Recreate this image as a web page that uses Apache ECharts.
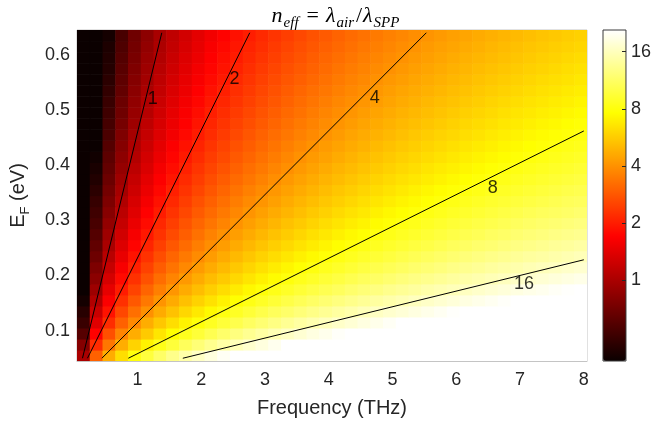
<!DOCTYPE html>
<html>
<head>
<meta charset="utf-8">
<script src="https://cdn.jsdelivr.net/npm/echarts@6/dist/echarts.min.js"></script>
<style>
  html, body { margin: 0; padding: 0; background: #fff; }
  #chart { width: 654px; height: 424px; }
</style>
</head>
<body>
<div id="chart"></div>
<script>
// cell centres (THz / eV)
const freq = [0.15, 0.35, 0.55, 0.75, 0.95, 1.15, 1.35, 1.55, 1.75, 1.95,
  2.15, 2.35, 2.55, 2.75, 2.95, 3.15, 3.35, 3.55, 3.75, 3.95,
  4.15, 4.35, 4.55, 4.75, 4.95, 5.15, 5.35, 5.55, 5.75, 5.95,
  6.15, 6.35, 6.55, 6.75, 6.95, 7.15, 7.35, 7.55, 7.75, 7.95];
const fermi = [0.055, 0.075, 0.095, 0.115, 0.135, 0.155, 0.175, 0.195, 0.215, 0.235,
  0.255, 0.275, 0.295, 0.315, 0.335, 0.355, 0.375, 0.395, 0.415, 0.435,
  0.455, 0.475, 0.495, 0.515, 0.535, 0.555, 0.575, 0.595, 0.615, 0.635];

// n_eff, one row per fermi level (bottom row first)
const neff = [
  [1.0, 3.0, 4.7, 6.3, 8.0, 9.7, 11.4, 13.1, 14.8, 16.5, 18.2, 19.9, 22, 23, 25, 27, 28, 30, 32, 33, 35, 37, 38, 40, 42, 44, 45, 47, 49, 50, 52, 54, 55, 57, 59, 60, 62, 64, 66, 67],
  [0.8, 2.2, 3.4, 4.7, 5.9, 7.1, 8.4, 9.6, 10.9, 12.1, 13.3, 14.6, 15.8, 17.1, 18.3, 19.5, 21, 22, 23, 24, 26, 27, 28, 29, 31, 32, 33, 34, 36, 37, 38, 39, 41, 42, 43, 44, 46, 47, 48, 49],
  [0.6, 1.7, 2.7, 3.7, 4.7, 5.6, 6.6, 7.6, 8.6, 9.5, 10.5, 11.5, 12.5, 13.5, 14.4, 15.4, 16.4, 17.4, 18.4, 19.3, 20.3, 21, 22, 23, 24, 25, 26, 27, 28, 29, 30, 31, 32, 33, 34, 35, 36, 37, 38, 39],
  [0.5, 1.4, 2.2, 3.0, 3.8, 4.7, 5.5, 6.3, 7.1, 7.9, 8.7, 9.5, 10.3, 11.1, 11.9, 12.7, 13.6, 14.4, 15.2, 16.0, 16.8, 17.6, 18.4, 19.2, 20.0, 20.8, 21.6, 22.4, 23.3, 24.1, 24.9, 25.7, 26.5, 27.3, 28.1, 28.9, 29.7, 30.5, 31.3, 32.2],
  [0.45, 1.21, 1.89, 2.58, 3.27, 3.96, 4.65, 5.34, 6.03, 6.72, 7.41, 8.09, 8.78, 9.47, 10.2, 10.9, 11.5, 12.2, 12.9, 13.6, 14.3, 15.0, 15.7, 16.4, 17.1, 17.7, 18.4, 19.1, 19.8, 20.5, 21.2, 21.9, 22.6, 23.3, 23.9, 24.6, 25.3, 26.0, 26.7, 27.4],
  [0.4, 1.05, 1.65, 2.25, 2.85, 3.45, 4.05, 4.65, 5.25, 5.85, 6.45, 7.05, 7.65, 8.25, 8.85, 9.45, 10.1, 10.7, 11.3, 11.9, 12.5, 13.1, 13.7, 14.3, 14.9, 15.5, 16.1, 16.7, 17.3, 17.9, 18.5, 19.1, 19.7, 20.3, 20.9, 21.5, 22.1, 22.7, 23.3, 23.9],
  [0.35, 0.93, 1.46, 1.99, 2.52, 3.06, 3.59, 4.12, 4.65, 5.18, 5.71, 6.24, 6.78, 7.31, 7.84, 8.37, 8.90, 9.43, 9.96, 10.5, 11.0, 11.6, 12.1, 12.6, 13.2, 13.7, 14.2, 14.8, 15.3, 15.8, 16.3, 16.9, 17.4, 17.9, 18.5, 19.0, 19.5, 20.1, 20.6, 21.1],
  [0.33, 0.83, 1.31, 1.79, 2.27, 2.74, 3.22, 3.70, 4.17, 4.65, 5.13, 5.60, 6.08, 6.56, 7.03, 7.51, 7.99, 8.47, 8.94, 9.42, 9.90, 10.4, 10.9, 11.3, 11.8, 12.3, 12.8, 13.2, 13.7, 14.2, 14.7, 15.1, 15.6, 16.1, 16.6, 17.1, 17.5, 18.0, 18.5, 19.0],
  [0.32, 0.76, 1.19, 1.62, 2.05, 2.49, 2.92, 3.35, 3.78, 4.22, 4.65, 5.08, 5.52, 5.95, 6.38, 6.81, 7.25, 7.68, 8.11, 8.54, 8.98, 9.41, 9.84, 10.3, 10.7, 11.1, 11.6, 12.0, 12.4, 12.9, 13.3, 13.7, 14.2, 14.6, 15.0, 15.5, 15.9, 16.3, 16.8, 17.2],
  [0.30, 0.69, 1.09, 1.48, 1.88, 2.28, 2.67, 3.07, 3.46, 3.86, 4.25, 4.65, 5.05, 5.44, 5.84, 6.23, 6.63, 7.02, 7.42, 7.82, 8.21, 8.61, 9.00, 9.40, 9.79, 10.2, 10.6, 11.0, 11.4, 11.8, 12.2, 12.6, 13.0, 13.4, 13.8, 14.2, 14.5, 14.9, 15.3, 15.7],
  [0.27, 0.64, 1.00, 1.37, 1.73, 2.10, 2.46, 2.83, 3.19, 3.56, 3.92, 4.29, 4.65, 5.01, 5.38, 5.74, 6.11, 6.47, 6.84, 7.20, 7.57, 7.93, 8.30, 8.66, 9.03, 9.39, 9.76, 10.1, 10.5, 10.9, 11.2, 11.6, 11.9, 12.3, 12.7, 13.0, 13.4, 13.8, 14.1, 14.5],
  [0.25, 0.59, 0.93, 1.27, 1.61, 1.94, 2.28, 2.62, 2.96, 3.30, 3.64, 3.97, 4.31, 4.65, 4.99, 5.33, 5.66, 6.00, 6.34, 6.68, 7.02, 7.36, 7.69, 8.03, 8.37, 8.71, 9.05, 9.39, 9.72, 10.1, 10.4, 10.7, 11.1, 11.4, 11.8, 12.1, 12.4, 12.8, 13.1, 13.4],
  [0.24, 0.55, 0.87, 1.18, 1.50, 1.81, 2.13, 2.44, 2.76, 3.07, 3.39, 3.70, 4.02, 4.34, 4.65, 4.97, 5.28, 5.60, 5.91, 6.23, 6.54, 6.86, 7.17, 7.49, 7.80, 8.12, 8.43, 8.75, 9.06, 9.38, 9.69, 10.0, 10.3, 10.6, 11.0, 11.3, 11.6, 11.9, 12.2, 12.5],
  [0.22, 0.52, 0.81, 1.11, 1.40, 1.70, 1.99, 2.29, 2.58, 2.88, 3.17, 3.47, 3.76, 4.06, 4.35, 4.65, 4.94, 5.24, 5.54, 5.83, 6.13, 6.42, 6.72, 7.01, 7.31, 7.60, 7.90, 8.19, 8.49, 8.78, 9.08, 9.37, 9.67, 9.96, 10.3, 10.6, 10.9, 11.1, 11.4, 11.7],
  [0.21, 0.49, 0.76, 1.04, 1.32, 1.60, 1.87, 2.15, 2.43, 2.71, 2.98, 3.26, 3.54, 3.82, 4.09, 4.37, 4.65, 4.93, 5.20, 5.48, 5.76, 6.04, 6.32, 6.59, 6.87, 7.15, 7.43, 7.70, 7.98, 8.26, 8.54, 8.81, 9.09, 9.37, 9.65, 9.92, 10.2, 10.5, 10.8, 11.0],
  [0.20, 0.46, 0.72, 0.98, 1.24, 1.51, 1.77, 2.03, 2.29, 2.55, 2.82, 3.08, 3.34, 3.60, 3.86, 4.13, 4.39, 4.65, 4.91, 5.17, 5.44, 5.70, 5.96, 6.22, 6.48, 6.75, 7.01, 7.27, 7.53, 7.79, 8.06, 8.32, 8.58, 8.84, 9.10, 9.37, 9.63, 9.89, 10.2, 10.4],
  [0.19, 0.43, 0.68, 0.93, 1.18, 1.43, 1.67, 1.92, 2.17, 2.42, 2.67, 2.91, 3.16, 3.41, 3.66, 3.91, 4.15, 4.40, 4.65, 4.90, 5.15, 5.39, 5.64, 5.89, 6.14, 6.39, 6.63, 6.88, 7.13, 7.38, 7.63, 7.87, 8.12, 8.37, 8.62, 8.87, 9.11, 9.36, 9.61, 9.86],
  [0.18, 0.41, 0.65, 0.88, 1.12, 1.35, 1.59, 1.82, 2.06, 2.30, 2.53, 2.77, 3.00, 3.24, 3.47, 3.71, 3.94, 4.18, 4.41, 4.65, 4.89, 5.12, 5.36, 5.59, 5.83, 6.06, 6.30, 6.53, 6.77, 7.00, 7.24, 7.47, 7.71, 7.95, 8.18, 8.42, 8.65, 8.89, 9.12, 9.36],
  [0.17, 0.39, 0.62, 0.84, 1.06, 1.29, 1.51, 1.74, 1.96, 2.18, 2.41, 2.63, 2.86, 3.08, 3.30, 3.53, 3.75, 3.98, 4.20, 4.42, 4.65, 4.87, 5.10, 5.32, 5.55, 5.77, 5.99, 6.22, 6.44, 6.67, 6.89, 7.11, 7.34, 7.56, 7.79, 8.01, 8.23, 8.46, 8.68, 8.91],
  [0.16, 0.37, 0.59, 0.80, 1.02, 1.23, 1.44, 1.66, 1.87, 2.08, 2.30, 2.51, 2.73, 2.94, 3.15, 3.37, 3.58, 3.80, 4.01, 4.22, 4.44, 4.65, 4.86, 5.08, 5.29, 5.51, 5.72, 5.93, 6.15, 6.36, 6.57, 6.79, 7.00, 7.22, 7.43, 7.64, 7.86, 8.07, 8.29, 8.50],
  [0.15, 0.36, 0.56, 0.77, 0.97, 1.18, 1.38, 1.58, 1.79, 1.99, 2.20, 2.40, 2.61, 2.81, 3.02, 3.22, 3.42, 3.63, 3.83, 4.04, 4.24, 4.45, 4.65, 4.85, 5.06, 5.26, 5.47, 5.67, 5.88, 6.08, 6.29, 6.49, 6.69, 6.90, 7.10, 7.31, 7.51, 7.72, 7.92, 8.13],
  [0.15, 0.34, 0.54, 0.73, 0.93, 1.13, 1.32, 1.52, 1.71, 1.91, 2.11, 2.30, 2.50, 2.69, 2.89, 3.08, 3.28, 3.48, 3.67, 3.87, 4.06, 4.26, 4.45, 4.65, 4.85, 5.04, 5.24, 5.43, 5.63, 5.82, 6.02, 6.22, 6.41, 6.61, 6.80, 7.00, 7.19, 7.39, 7.59, 7.78],
  [0.14, 0.33, 0.52, 0.70, 0.89, 1.08, 1.27, 1.46, 1.64, 1.83, 2.02, 2.21, 2.40, 2.58, 2.77, 2.96, 3.15, 3.33, 3.52, 3.71, 3.90, 4.09, 4.27, 4.46, 4.65, 4.84, 5.03, 5.21, 5.40, 5.59, 5.78, 5.96, 6.15, 6.34, 6.53, 6.72, 6.90, 7.09, 7.28, 7.47],
  [0.14, 0.32, 0.50, 0.68, 0.86, 1.04, 1.22, 1.40, 1.58, 1.76, 1.94, 2.12, 2.30, 2.48, 2.66, 2.84, 3.03, 3.21, 3.39, 3.57, 3.75, 3.93, 4.11, 4.29, 4.47, 4.65, 4.83, 5.01, 5.19, 5.37, 5.55, 5.73, 5.91, 6.09, 6.28, 6.46, 6.64, 6.82, 7.00, 7.18],
  [0.13, 0.30, 0.48, 0.65, 0.83, 1.00, 1.17, 1.35, 1.52, 1.69, 1.87, 2.04, 2.22, 2.39, 2.56, 2.74, 2.91, 3.09, 3.26, 3.43, 3.61, 3.78, 3.95, 4.13, 4.30, 4.48, 4.65, 4.82, 5.00, 5.17, 5.34, 5.52, 5.69, 5.87, 6.04, 6.21, 6.39, 6.56, 6.74, 6.91],
  [0.13, 0.29, 0.46, 0.63, 0.80, 0.96, 1.13, 1.30, 1.47, 1.63, 1.80, 1.97, 2.14, 2.30, 2.47, 2.64, 2.81, 2.97, 3.14, 3.31, 3.48, 3.64, 3.81, 3.98, 4.15, 4.31, 4.48, 4.65, 4.82, 4.98, 5.15, 5.32, 5.49, 5.65, 5.82, 5.99, 6.16, 6.32, 6.49, 6.66],
  [0.12, 0.28, 0.44, 0.61, 0.77, 0.93, 1.09, 1.25, 1.42, 1.58, 1.74, 1.90, 2.06, 2.22, 2.39, 2.55, 2.71, 2.87, 3.03, 3.19, 3.36, 3.52, 3.68, 3.84, 4.00, 4.16, 4.33, 4.49, 4.65, 4.81, 4.97, 5.13, 5.30, 5.46, 5.62, 5.78, 5.94, 6.10, 6.27, 6.43],
  [0.12, 0.27, 0.43, 0.59, 0.74, 0.90, 1.05, 1.21, 1.37, 1.52, 1.68, 1.84, 1.99, 2.15, 2.31, 2.46, 2.62, 2.77, 2.93, 3.09, 3.24, 3.40, 3.56, 3.71, 3.87, 4.02, 4.18, 4.34, 4.49, 4.65, 4.81, 4.96, 5.12, 5.27, 5.43, 5.59, 5.74, 5.90, 6.06, 6.21],
  [0.11, 0.26, 0.42, 0.57, 0.72, 0.87, 1.02, 1.17, 1.32, 1.47, 1.63, 1.78, 1.93, 2.08, 2.23, 2.38, 2.53, 2.68, 2.83, 2.99, 3.14, 3.29, 3.44, 3.59, 3.74, 3.89, 4.04, 4.20, 4.35, 4.50, 4.65, 4.80, 4.95, 5.10, 5.25, 5.41, 5.56, 5.71, 5.86, 6.01],
  [0.11, 0.26, 0.40, 0.55, 0.70, 0.84, 0.99, 1.14, 1.28, 1.43, 1.57, 1.72, 1.87, 2.01, 2.16, 2.31, 2.45, 2.60, 2.75, 2.89, 3.04, 3.19, 3.33, 3.48, 3.62, 3.77, 3.92, 4.06, 4.21, 4.36, 4.50, 4.65, 4.80, 4.94, 5.09, 5.24, 5.38, 5.53, 5.68, 5.82]
];

// contour lines: level, start/end frequency and fermi level
const contourLevels = [1, 2, 4, 8, 16];
const contourFreq = [[0.136, 1.38], [0.214, 2.76], [0.44, 5.53], [0.855, 8.0], [1.71, 8.0]];
const contourFermi = [[0.05, 0.64], [0.05, 0.64], [0.05, 0.64], [0.05, 0.462], [0.05, 0.2285]];
// where the contour labels sit
const labelFreq = [1.24, 2.52, 4.72, 6.57, 7.06];
const labelFermi = [0.52, 0.556, 0.522, 0.358, 0.184];

const xTicks = [1, 2, 3, 4, 5, 6, 7, 8];
const yTicks = [0.1, 0.2, 0.3, 0.4, 0.5, 0.6];
const barTicks = [1, 2, 4, 8, 16];
const barMin = -1.41, barMax = 4.38; // colour limits, log2(n_eff)

const dx = freq[1] - freq[0];
const dy = fermi[1] - fermi[0];
const cells = [];
fermi.forEach((e, i) => {
  freq.forEach((f, j) => {
    const v = neff[i][j];
    const l = Math.min(barMax, Math.max(barMin, Math.log2(v)));
    cells.push([f, e, l, v]);
  });
});

const txt = '#262626';
const font = 'Liberation Sans, Arial, sans-serif';
const serif = 'Liberation Serif, serif';
const barTickPos = barTicks.map(Math.log2);

const chart = echarts.init(document.getElementById('chart'));
chart.setOption({
  animation: false,
  backgroundColor: '#fff',
  title: {
    text: '{i|n}{s|eff}{r|=}{i|λ}{s|air}{d|/}{i|λ}{s|SPP}',
    left: 331, top: -4, textAlign: 'center',
    textStyle: {
      rich: {
        i: { fontFamily: serif, fontStyle: 'italic', fontWeight: 'normal', fontSize: 22, lineHeight: 30, color: '#000' },
        r: { fontFamily: serif, fontWeight: 'normal', fontSize: 22, lineHeight: 30, color: '#000', padding: [0, 7, 0, 7] },
        d: { fontFamily: serif, fontWeight: 'normal', fontSize: 22, lineHeight: 30, color: '#000', padding: [0, 1, 0, 1] },
        s: { fontFamily: serif, fontStyle: 'italic', fontWeight: 'normal', fontSize: 15, lineHeight: 15, verticalAlign: 'bottom', color: '#000', padding: [0, 1, 0, 1] }
      }
    }
  },
  grid: [
    { left: 75, top: 30, width: 512, height: 331, show: true, borderColor: '#c4c4c4', borderWidth: 1 },
    { left: 603, top: 30, width: 23, height: 331, show: true, borderColor: '#3a3a3a', borderWidth: 1, z: 10 }
  ],
  xAxis: [
    {
      type: 'value', gridIndex: 0, min: 0.05, max: 8.05,
      name: 'Frequency (THz)', nameLocation: 'middle', nameGap: 37,
      nameTextStyle: { fontFamily: font, fontSize: 20, color: txt },
      axisLine: { show: true, lineStyle: { color: '#c4c4c4' } },
      axisTick: { show: false },
      splitLine: { show: false },
      axisLabel: { customValues: xTicks, margin: 10, fontFamily: font, fontSize: 18, color: txt }
    },
    { type: 'value', gridIndex: 1, min: 0, max: 1, show: false }
  ],
  yAxis: [
    {
      type: 'value', gridIndex: 0, min: 0.045, max: 0.645,
      name: '{a|E}{s|F}{a| (eV)}', nameLocation: 'middle', nameGap: 45, nameRotate: 90,
      nameTextStyle: {
        rich: {
          a: { fontFamily: font, fontSize: 20, lineHeight: 28, color: txt },
          s: { fontFamily: font, fontSize: 13, lineHeight: 13, verticalAlign: 'bottom', color: txt }
        }
      },
      axisLine: { show: false },
      axisTick: { show: false },
      splitLine: { show: false },
      axisLabel: {
        customValues: yTicks, margin: 7, fontFamily: font, fontSize: 18, color: txt,
        formatter: v => v.toFixed(1)
      }
    },
    {
      type: 'value', gridIndex: 1, min: barMin, max: barMax, position: 'right', z: 12,
      axisLine: { show: false },
      splitLine: { show: false },
      axisTick: { show: false },
      axisLabel: {
        customValues: barTickPos, margin: 5, fontFamily: font, fontSize: 18, color: txt,
        formatter: v => String(Math.round(Math.pow(2, v)))
      }
    },
    {
      type: 'value', gridIndex: 1, min: barMin, max: barMax, position: 'left', offset: -23, z: 12,
      axisLine: { show: false },
      splitLine: { show: false },
      axisLabel: { show: false },
      axisTick: { show: true, inside: false, length: 4, customValues: barTickPos, lineStyle: { color: txt } }
    }
  ],
  visualMap: {
    type: 'continuous', seriesIndex: 0, dimension: 2,
    min: barMin, max: barMax,
    left: 603, top: 30, itemWidth: 23, itemHeight: 331,
    padding: 0, calculable: false, hoverLink: false, showLabel: false, text: null,
    inRange: {
      color: ['#0b0000', '#5c0000', '#ae0000', '#ff0000', '#ff5500', '#ffaa00', '#ffff00', '#ffff80', '#ffffff']
    }
  },
  series: [
    {
      type: 'custom', xAxisIndex: 0, yAxisIndex: 0, clip: true,
      data: cells,
      renderItem: (params, api) => {
        const p0 = api.coord([api.value(0) - dx / 2, api.value(1) + dy / 2]);
        const p1 = api.coord([api.value(0) + dx / 2, api.value(1) - dy / 2]);
        return {
          type: 'rect',
          shape: { x: p0[0], y: p0[1], width: p1[0] - p0[0] + 0.6, height: p1[1] - p0[1] + 0.6 },
          style: { fill: api.visual('color') }
        };
      }
    },
    ...contourLevels.map((lv, k) => ({
      type: 'line', xAxisIndex: 0, yAxisIndex: 0, z: 5,
      name: 'n = ' + lv,
      symbol: 'none',
      lineStyle: { color: '#000', width: 1 },
      data: [[contourFreq[k][0], contourFermi[k][0]], [contourFreq[k][1], contourFermi[k][1]]]
    })),
    {
      type: 'scatter', xAxisIndex: 0, yAxisIndex: 0, z: 6,
      symbolSize: 0,
      data: contourLevels.map((lv, k) => ({ name: String(lv), value: [labelFreq[k], labelFermi[k]] })),
      label: { show: true, position: 'inside', formatter: '{b}', fontFamily: font, fontSize: 18, color: '#000' }
    }
  ]
});
</script>
</body>
</html>
